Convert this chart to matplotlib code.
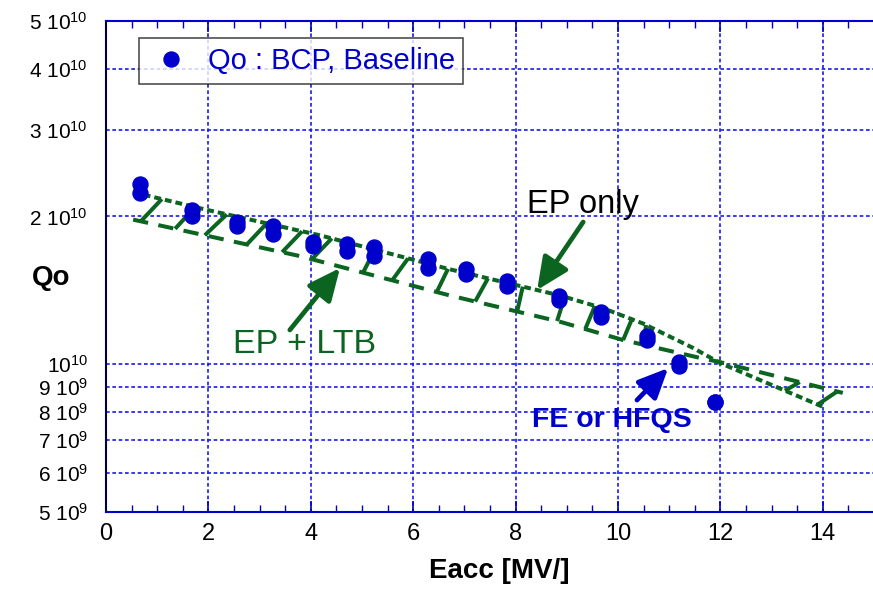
import numpy as np
import matplotlib
matplotlib.use("Agg")
import matplotlib.pyplot as plt
from matplotlib.ticker import FixedLocator, FixedFormatter, MultipleLocator

plt.rcParams['font.family'] = ['Liberation Sans', 'DejaVu Sans']
plt.rcParams['mathtext.fontset'] = 'custom'
plt.rcParams['mathtext.rm'] = 'Liberation Sans'
plt.rcParams['mathtext.it'] = 'Liberation Sans'
plt.rcParams['mathtext.bf'] = 'Liberation Sans:bold'

# ---- data ----
eacc = [0.66, 1.68, 2.56, 3.26, 4.04, 4.70, 5.23, 6.28, 7.03, 7.83, 8.85, 9.67, 10.57, 11.20, 11.90]
q_run1 = [2.33e10, 2.06e10, 1.95e10, 1.91e10, 1.77e10, 1.76e10, 1.73e10, 1.64e10, 1.56e10, 1.48e10,
          1.38e10, 1.28e10, 1.14e10, 1.01e10, 8.37e9]
q_run2 = [2.23e10, 2.00e10, 1.91e10, 1.84e10, 1.74e10, 1.70e10, 1.66e10, 1.57e10, 1.53e10, 1.44e10,
          1.35e10, 1.25e10, 1.12e10, 0.99e10, 8.37e9]

ep_only_x = [0.53, 1.99, 4.18, 6.72, 8.87, 9.71, 10.49, 11.46, 11.99, 14.06]
ep_only_q = [2.24e10, 2.06e10, 1.83e10, 1.56e10, 1.38e10, 1.30e10, 1.21e10, 1.08e10, 1.006e10, 8.14e9]

ep_ltb_x = [0.53, 3.79, 6.72, 8.87, 10.10, 11.60, 11.99, 14.39]
ep_ltb_q = [1.97e10, 1.66e10, 1.38e10, 1.22e10, 1.12e10, 1.03e10, 1.01e10, 8.74e9]

hatch_lo_x = [0.68, 1.35, 1.93, 2.75, 3.44, 4.02, 5.02, 5.59, 6.46, 7.21, 8.03, 8.81, 9.36, 10.10, 10.49, 13.26, 13.90]
hatch_hi_x = [1.09, 1.74, 2.36, 3.14, 3.83, 4.41, 5.25, 5.90, 6.68, 7.46, 8.14, 8.96, 9.55, 10.27, 10.55, 13.55, 14.28]

xticks = [0, 2, 4, 6, 8, 10, 12, 14]
yticks = [5e9, 6e9, 7e9, 8e9, 9e9, 1e10, 2e10, 3e10, 4e10, 5e10]
ylabels = [r'$\mathregular{5\ 10^{9}}$', r'$\mathregular{6\ 10^{9}}$', r'$\mathregular{7\ 10^{9}}$',
           r'$\mathregular{8\ 10^{9}}$', r'$\mathregular{9\ 10^{9}}$', r'$\mathregular{10^{10}}$',
           r'$\mathregular{2\ 10^{10}}$', r'$\mathregular{3\ 10^{10}}$', r'$\mathregular{4\ 10^{10}}$',
           r'$\mathregular{5\ 10^{10}}$']

GREEN = '#0b6420'
BLUE = '#0000cc'
GRID = '#1a1aee'

fig = plt.figure(figsize=(8.73, 5.91), dpi=100)
W, H = 873, 591
ax = fig.add_axes([106 / W, 1 - 512 / H, (874 - 106) / W, (512 - 21) / H])
ax.set_yscale('log')
ax.set_xlim(0, 15)
ax.set_ylim(5e9, 5e10)

# grid
for xv in xticks[1:]:
    ax.axvline(xv, color=GRID, lw=1.2, ls=(0, (2.2, 1.6)), zorder=0)
for yv in yticks[1:-1]:
    ax.axhline(yv, color=GRID, lw=1.2, ls=(0, (2.2, 1.6)), zorder=0)

# band lines
lw = 2.9
ax.plot(ep_only_x, ep_only_q, color=GREEN, lw=lw, dashes=(1.7, 1.0), zorder=3)
ax.plot(ep_ltb_x, ep_ltb_q, color=GREEN, lw=lw, dashes=(3.8, 2.6), zorder=3)

def logint(x, xs, qs):
    return 10 ** np.interp(x, xs, np.log10(qs))

for xl, xh in zip(hatch_lo_x, hatch_hi_x):
    ql = min(logint(xl, ep_only_x, ep_only_q), logint(xl, ep_ltb_x, ep_ltb_q))
    qh = max(logint(xh, ep_only_x, ep_only_q), logint(xh, ep_ltb_x, ep_ltb_q))
    ax.plot([xl, xh], [ql, qh], color=GREEN, lw=lw, solid_capstyle='butt', zorder=3)

# data points
pts = ax.plot(eacc, q_run1, 'o', color=BLUE, ms=10.8, mec=BLUE, zorder=4,
              label='Qo : BCP, Baseline', linestyle='none')[0]
ax.plot(eacc, q_run2, 'o', color=BLUE, ms=10.8, mec=BLUE, zorder=4, linestyle='none')

# annotations
arrow_style = '-|>,head_length=0.7,head_width=0.32'
ax.text(9.32, 2.03e10, 'EP only', fontsize=23.5, color='black', ha='center', va='baseline')
ax.annotate('', xy=(8.42, 1.416e10), xytext=(9.32, 1.948e10),
            arrowprops=dict(arrowstyle=arrow_style, lw=3.4,
                            color=GREEN, mutation_scale=28, shrinkA=0, shrinkB=0))
ax.text(2.48, 1.054e10, 'EP + LTB', fontsize=24.5, color=GREEN, ha='left', va='baseline')
ax.annotate('', xy=(4.57, 1.57e10), xytext=(3.59, 1.174e10),
            arrowprops=dict(arrowstyle=arrow_style, lw=3.4,
                            color=GREEN, mutation_scale=28, shrinkA=0, shrinkB=0))
ax.text(8.32, 7.45e9, 'FE or HFQS', fontsize=20.5, fontweight='bold', color=BLUE,
        ha='left', va='baseline')
ax.annotate('', xy=(10.98, 9.82e9), xytext=(10.37, 8.45e9),
            arrowprops=dict(arrowstyle=arrow_style, lw=3.4,
                            color=BLUE, mutation_scale=26, shrinkA=0, shrinkB=0))

# ticks
ax.xaxis.set_major_locator(FixedLocator(xticks))
ax.xaxis.set_minor_locator(MultipleLocator(0.5))
ax.yaxis.set_major_locator(FixedLocator(yticks))
ax.yaxis.set_major_formatter(FixedFormatter(ylabels))
ax.yaxis.set_minor_locator(FixedLocator([]))
ax.tick_params(axis='x', which='both', direction='in', colors=BLUE, top=True, labelcolor='black',
               labelsize=17, pad=8)
ax.tick_params(axis='x', which='major', length=8, width=1.2)
ax.tick_params(axis='x', which='minor', length=5, width=1.0)
ax.tick_params(axis='y', which='both', length=0, labelsize=15, labelcolor='black', pad=13)

for s in ['bottom', 'top']:
    ax.spines[s].set_color(BLUE)
    ax.spines[s].set_linewidth(1.5)
ax.spines['left'].set_color('#000040')
ax.spines['left'].set_linewidth(1.5)
ax.spines['right'].set_visible(False)

fig.text(51 / W, 1 - 278 / H, 'Qo', fontsize=20, fontweight='bold', ha='center', va='center')
fig.text(499 / W, 1 - 571 / H, 'Eacc [MV/]', fontsize=20, fontweight='bold', ha='center', va='center')

leg = ax.legend(handles=[pts], loc='upper left', bbox_to_anchor=(139 / W, 1 - 38 / H),
                bbox_transform=fig.transFigure, fontsize=21, frameon=True, fancybox=False,
                borderpad=0.3, handletextpad=0.45, handlelength=1.6, borderaxespad=0)
leg.get_frame().set_edgecolor('#222222')
leg.get_frame().set_linewidth(1.2)
for t in leg.get_texts():
    t.set_color(BLUE)

fig.savefig('out.png', dpi=100)
